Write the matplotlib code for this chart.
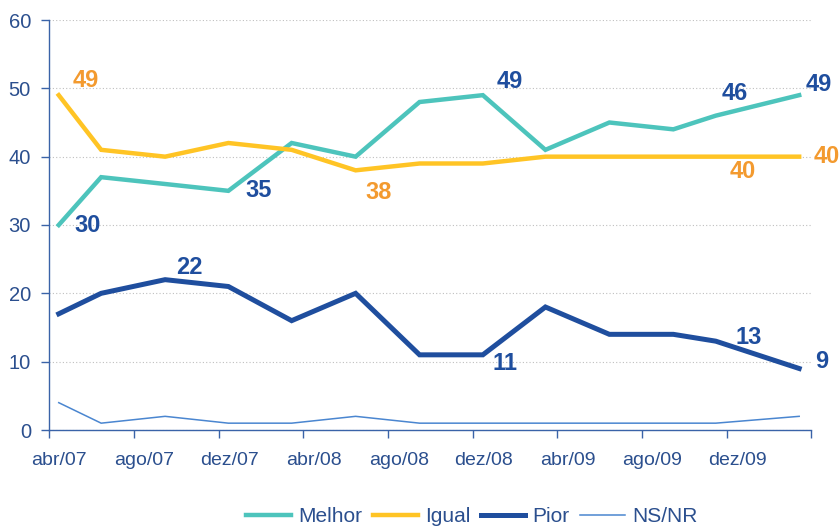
import datetime as dt
import matplotlib
matplotlib.use("Agg")
import matplotlib.pyplot as plt
import matplotlib.dates as mdates

plt.rcParams['font.family'] = ['Liberation Sans', 'DejaVu Sans']

# datas das pesquisas (meio do mes)
datas = ["2007-04", "2007-06", "2007-09", "2007-12", "2008-03", "2008-06", "2008-09",
         "2008-12", "2009-03", "2009-06", "2009-09", "2009-11", "2010-03"]
melhor = [30, 37, 36, 35, 42, 40, 48, 49, 41, 45, 44, 46, 49]
igual = [49, 41, 40, 42, 41, 38, 39, 39, 40, 40, 40, 40, 40]
pior = [17, 20, 22, 21, 16, 20, 11, 11, 18, 14, 14, 13, 9]
nsnr = [4, 1, 2, 1, 1, 2, 1, 1, 1, 1, 1, 1, 2]

rotulos_x = ["abr/07", "ago/07", "dez/07", "abr/08", "ago/08", "dez/08",
             "abr/09", "ago/09", "dez/09"]

AZUL = '#1F4E9E'
LARANJA = '#F39A2F'
TXT = '#2B4F8E'

x = [dt.datetime.strptime(d, "%Y-%m") + dt.timedelta(days=14) for d in datas]

fig = plt.figure(figsize=(8.4, 5.31), dpi=100)
ax = fig.add_axes([49 / 840, 101 / 531, 762 / 840, 410 / 531])

ax.plot(x, melhor, color='#4DC4BC', lw=3.2, label='Melhor', solid_joinstyle='miter')
ax.plot(x, igual, color='#FFC425', lw=3.2, label='Igual', solid_joinstyle='miter')
ax.plot(x, pior, color='#1F4E9E', lw=3.6, label='Pior', solid_joinstyle='miter')
ax.plot(x, nsnr, color='#4A86D0', lw=1.1, label='NS/NR')

# rotulos de valores: (serie, indice, cor, dx, dy) em pixels
series = {'melhor': melhor, 'igual': igual, 'pior': pior}
rotulos = [
    ('melhor', 0, AZUL, 29, 0), ('igual', 0, LARANJA, 27, 15),
    ('melhor', 3, AZUL, 30, 0), ('igual', 5, LARANJA, 23, -22),
    ('pior', 2, AZUL, 24, 12), ('melhor', 7, AZUL, 27, 14),
    ('pior', 7, AZUL, 22, -9), ('melhor', 11, AZUL, 19, 22),
    ('melhor', 12, AZUL, 20, 11), ('igual', 11, LARANJA, 27, -15),
    ('igual', 12, LARANJA, 28, 0), ('pior', 11, AZUL, 33, 4),
    ('pior', 12, AZUL, 23, 7),
]
for nome, i, cor, dx, dy in rotulos:
    v = series[nome][i]
    ax.annotate(str(v), (x[i], v), xytext=(dx, dy), textcoords='offset pixels',
                ha='center', va='center', fontsize=17, fontweight='bold',
                color=cor, annotation_clip=False)

ax.set_ylim(0, 60)
ax.set_yticks(range(0, 61, 10))
ax.set_xlim(dt.datetime(2007, 4, 1), dt.datetime(2010, 4, 1))

ax.xaxis.set_major_locator(mdates.MonthLocator(bymonth=[4, 8, 12]))
ax.xaxis.set_major_formatter(plt.NullFormatter())
ax.xaxis.set_minor_locator(mdates.MonthLocator(bymonth=[4, 8, 12], bymonthday=16))
ax.xaxis.set_minor_formatter(plt.FixedFormatter(rotulos_x))

ax.tick_params(axis='x', which='major', length=6, color='#3A63A8', width=1)
ax.tick_params(axis='x', which='minor', length=0, pad=16, labelsize=14, labelcolor=TXT)
ax.tick_params(axis='y', length=6, color='#3A63A8', width=1, pad=7,
               labelsize=14.5, labelcolor=TXT)

for s in ['top', 'right']:
    ax.spines[s].set_visible(False)
for s in ['left', 'bottom']:
    ax.spines[s].set_color('#3A63A8')
    ax.spines[s].set_linewidth(1)

ax.grid(axis='y', color='#BFBFBF', linestyle=(0, (1, 2)), lw=0.8)
ax.set_axisbelow(True)

fig.legend(loc='center', bbox_to_anchor=(472 / 840, 14 / 531), ncol=4, frameon=False,
           fontsize=15, handlelength=2.15, handletextpad=0.35, columnspacing=0.5,
           labelcolor=TXT)

fig.savefig('out.png', dpi=100)
